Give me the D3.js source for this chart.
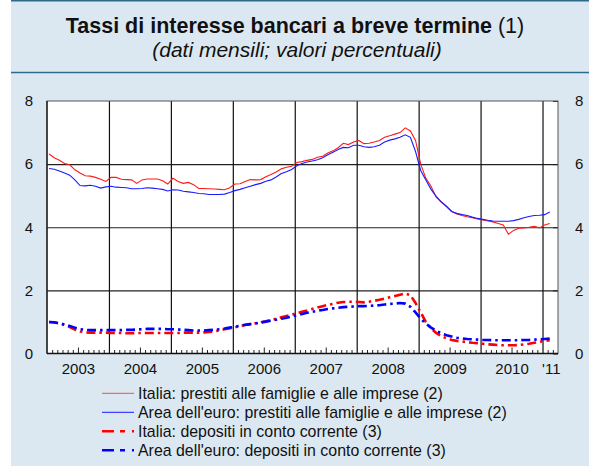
<!DOCTYPE html>
<html>
<head>
<meta charset="utf-8">
<script src="https://cdn.jsdelivr.net/npm/d3@7"></script>
<style>
  body { margin: 0; background: #fff; }
  svg { display: block; font-family: "Liberation Sans", Arial, Helvetica, sans-serif; }
</style>
</head>
<body>
<div id="chart"></div>
<script>
// Monthly data, Jan 2003 .. Feb 2011
const itPrestiti = [
  6.32, 6.20, 6.12, 6.02, 5.98, 5.82, 5.72, 5.63, 5.62, 5.58, 5.52, 5.45,
  5.58, 5.58, 5.52, 5.51, 5.50, 5.39, 5.50, 5.53, 5.53, 5.53, 5.47, 5.37,
  5.55, 5.45, 5.39, 5.42, 5.35, 5.23, 5.23, 5.22, 5.21, 5.20, 5.19, 5.25,
  5.37, 5.38, 5.45, 5.51, 5.50, 5.51, 5.60, 5.67, 5.75, 5.85, 5.90, 5.93,
  6.05, 6.08, 6.12, 6.15, 6.22, 6.25, 6.35, 6.42, 6.52, 6.66, 6.62, 6.70,
  6.75, 6.65, 6.66, 6.70, 6.75, 6.85, 6.90, 6.95, 7.00, 7.15, 7.05, 6.75,
  6.00, 5.55, 5.30, 4.95, 4.80, 4.65, 4.50, 4.42, 4.37, 4.33, 4.30, 4.26,
  4.23, 4.20, 4.17, 4.12, 4.07, 3.78, 3.90, 3.97, 3.98, 4.00, 4.03, 3.98,
  4.07, 4.12
];
const euPrestiti = [
  5.86, 5.84, 5.78, 5.72, 5.65, 5.50, 5.32, 5.31, 5.33, 5.30, 5.24, 5.28,
  5.30, 5.27, 5.26, 5.25, 5.22, 5.22, 5.23, 5.25, 5.24, 5.22, 5.20, 5.15,
  5.19, 5.18, 5.14, 5.12, 5.10, 5.07, 5.06, 5.04, 5.04, 5.04, 5.05, 5.10,
  5.16, 5.20, 5.25, 5.30, 5.35, 5.39, 5.46, 5.50, 5.59, 5.70, 5.76, 5.83,
  5.95, 6.02, 6.07, 6.10, 6.14, 6.20, 6.30, 6.38, 6.46, 6.53, 6.52, 6.60,
  6.60, 6.55, 6.53, 6.55, 6.60, 6.70, 6.76, 6.80, 6.85, 6.93, 6.85, 6.40,
  5.80, 5.50, 5.20, 4.98, 4.80, 4.67, 4.50, 4.44, 4.40, 4.37, 4.32, 4.28,
  4.25, 4.22, 4.20, 4.19, 4.19, 4.19, 4.21, 4.25, 4.30, 4.34, 4.37, 4.38,
  4.40, 4.48
];
const itDepositi = [
  1.00, 0.98, 0.95, 0.90, 0.84, 0.76, 0.70, 0.67, 0.66, 0.66, 0.66, 0.66,
  0.65, 0.65, 0.65, 0.64, 0.64, 0.65, 0.65, 0.65, 0.65, 0.65, 0.65, 0.65,
  0.65, 0.65, 0.66, 0.66, 0.66, 0.66, 0.67, 0.68, 0.70, 0.73, 0.77, 0.80,
  0.83, 0.87, 0.90, 0.93, 0.96, 0.99, 1.02, 1.06, 1.10, 1.15, 1.19, 1.23,
  1.28, 1.32, 1.36, 1.41, 1.46, 1.50, 1.54, 1.57, 1.61, 1.63, 1.64, 1.64,
  1.63, 1.62, 1.64, 1.67, 1.70, 1.74, 1.78, 1.82, 1.86, 1.90, 1.85, 1.60,
  1.30, 1.00, 0.80, 0.65, 0.55, 0.48, 0.43, 0.40, 0.38, 0.36, 0.34, 0.33,
  0.31, 0.29, 0.28, 0.27, 0.26, 0.26, 0.26, 0.27, 0.29, 0.31, 0.34, 0.37,
  0.40, 0.42
];
const euDepositi = [
  1.00, 0.99, 0.96, 0.92, 0.87, 0.82, 0.77, 0.75, 0.74, 0.74, 0.74, 0.74,
  0.74, 0.74, 0.74, 0.75, 0.75, 0.76, 0.77, 0.78, 0.78, 0.78, 0.78, 0.77,
  0.77, 0.76, 0.75, 0.74, 0.73, 0.73, 0.73, 0.74, 0.75, 0.77, 0.79, 0.82,
  0.85, 0.88, 0.91, 0.93, 0.95, 0.98, 1.01, 1.04, 1.07, 1.10, 1.13, 1.17,
  1.21, 1.25, 1.29, 1.32, 1.35, 1.38, 1.41, 1.43, 1.45, 1.47, 1.48, 1.49,
  1.50, 1.50, 1.51, 1.52, 1.53, 1.55, 1.57, 1.58, 1.60, 1.58, 1.48, 1.30,
  1.10, 0.95, 0.82, 0.72, 0.64, 0.58, 0.54, 0.50, 0.48, 0.46, 0.45, 0.44,
  0.43, 0.43, 0.42, 0.42, 0.42, 0.42, 0.42, 0.42, 0.43, 0.43, 0.44, 0.45,
  0.46, 0.47
];
const yearLabels = ["2003", "2004", "2005", "2006", "2007", "2008", "2009", "2010", "'11"];
const yTicks = [0, 2, 4, 6, 8];
const seriesNames = [
  "Italia: prestiti alle famiglie e alle imprese (2)",
  "Area dell'euro: prestiti alle famiglie e alle imprese (2)",
  "Italia: depositi in conto corrente (3)",
  "Area dell'euro: depositi in conto corrente (3)"
];

const W = 589, H = 466;
const plotLeft = 47, plotRight = 558, plotTop = 101, plotBottom = 353.5;
const nMonths = 99;

const svg = d3.select("#chart").append("svg")
  .attr("width", W).attr("height", H);

// panel background
svg.append("rect").attr("x", 11).attr("y", 0).attr("width", W - 11).attr("height", H)
  .attr("fill", "#dce8f1");
svg.append("line").attr("x1", 11).attr("x2", W).attr("y1", 0.75).attr("y2", 0.75)
  .attr("stroke", "#2e6a8c").attr("stroke-width", 1.5);
svg.append("line").attr("x1", 11).attr("x2", W).attr("y1", 72.5).attr("y2", 72.5)
  .attr("stroke", "#2e6a8c").attr("stroke-width", 1.5);

// titles
const title = svg.append("text").attr("x", 295).attr("y", 33)
  .attr("text-anchor", "middle").style("font-size", "21.5px").attr("fill", "#111");
title.append("tspan").style("font-weight", "bold").text("Tassi di interesse bancari a breve termine");
title.append("tspan").text(" (1)");
svg.append("text").attr("x", 297).attr("y", 57)
  .attr("text-anchor", "middle").style("font-size", "21px").style("font-style", "italic")
  .attr("fill", "#111").text("(dati mensili; valori percentuali)");

// scales
const x = d3.scaleLinear().domain([0, nMonths]).range([plotLeft, plotRight]);
const y = d3.scaleLinear().domain([0, 8]).range([plotBottom, plotTop]);

svg.append("rect").attr("x", plotLeft).attr("y", plotTop)
  .attr("width", plotRight - plotLeft).attr("height", plotBottom - plotTop).attr("fill", "#fff");

// horizontal grid
svg.append("g").attr("transform", `translate(${plotLeft},0)`)
  .call(d3.axisLeft(y).tickValues([2, 4, 6]).tickSize(-(plotRight - plotLeft)).tickFormat(""))
  .call(g => g.select(".domain").remove())
  .call(g => g.selectAll("line").attr("stroke", "#222").attr("stroke-width", 1.1));

// vertical grid at year boundaries
svg.append("g").attr("transform", `translate(0,${plotBottom})`)
  .call(d3.axisBottom(x).tickValues(d3.range(12, 97, 12)).tickSize(-(plotBottom - plotTop)).tickFormat(""))
  .call(g => g.select(".domain").remove())
  .call(g => g.selectAll("line").attr("stroke", "#111").attr("stroke-width", 1.2));

// monthly minor ticks
const monthTicks = d3.range(1, nMonths).filter(k => k % 12 !== 0);
svg.append("g").attr("transform", `translate(0,${plotBottom})`)
  .call(d3.axisBottom(x).tickValues(monthTicks).tickSize(0).tickFormat(""))
  .call(g => g.select(".domain").remove())
  .call(g => g.selectAll(".tick line")
    .attr("y2", d => d % 12 === 6 ? -6 : -3.5)
    .attr("stroke", "#222").attr("stroke-width", 1));

// year labels
svg.append("g").attr("transform", `translate(0,${plotBottom})`)
  .call(d3.axisBottom(x)
    .tickValues(yearLabels.map((d, i) => i < 8 ? i * 12 + 6 : 97.6))
    .tickFormat((d, i) => yearLabels[i]).tickSize(0).tickPadding(10))
  .call(g => g.select(".domain").remove())
  .call(g => g.selectAll("text").style("font-size", "15px").attr("fill", "#111")
    .style("font-family", "'Liberation Sans', Arial, sans-serif"));

// y labels left and right
svg.append("g").attr("transform", `translate(${plotLeft},0)`)
  .call(d3.axisLeft(y).tickValues(yTicks).tickSize(0).tickPadding(14))
  .call(g => g.select(".domain").remove())
  .call(g => g.selectAll("text").style("font-size", "15px").attr("fill", "#111")
    .style("font-family", "'Liberation Sans', Arial, sans-serif"));
svg.append("g").attr("transform", `translate(${plotRight},0)`)
  .call(d3.axisRight(y).tickValues(yTicks).tickSize(-5).tickPadding(17))
  .call(g => g.select(".domain").remove())
  .call(g => g.selectAll("line").attr("stroke", "#222"))
  .call(g => g.selectAll("text").style("font-size", "15px").attr("fill", "#111")
    .style("font-family", "'Liberation Sans', Arial, sans-serif"));

// frame
svg.append("rect").attr("x", plotLeft).attr("y", plotTop)
  .attr("width", plotRight - plotLeft).attr("height", plotBottom - plotTop)
  .attr("fill", "none").attr("stroke", "#555").attr("stroke-width", 1);
svg.append("line").attr("x1", plotLeft).attr("x2", plotRight).attr("y1", plotBottom).attr("y2", plotBottom)
  .attr("stroke", "#111").attr("stroke-width", 1.3);
svg.append("line").attr("x1", plotLeft).attr("x2", plotLeft).attr("y1", plotTop).attr("y2", plotBottom)
  .attr("stroke", "#111").attr("stroke-width", 1.3);

// series lines
const line = d3.line().x((d, i) => x(i + 0.4)).y(d => y(d));
const series = [
  { values: itPrestiti, color: "#ff1a1a", width: 1.1, dash: null },
  { values: euPrestiti, color: "#1a1aff", width: 1.1, dash: null },
  { values: itDepositi, color: "#ff0000", width: 2.6, dash: "9,4,2.5,4" },
  { values: euDepositi, color: "#0000ff", width: 2.6, dash: "9,4,2.5,4" }
];
series.forEach(s => {
  svg.append("path").datum(s.values)
    .attr("d", line)
    .attr("fill", "none")
    .attr("stroke", s.color)
    .attr("stroke-width", s.width)
    .attr("stroke-dasharray", s.dash);
});

// legend
const legend = svg.append("g");
series.forEach((s, i) => {
  const ly = 393.3 + i * 19;
  legend.append("line")
    .attr("x1", 102).attr("x2", 134).attr("y1", ly).attr("y2", ly)
    .attr("stroke", i === 0 ? "#f05050" : s.color)
    .attr("stroke-width", s.dash ? 2.6 : 1)
    .attr("stroke-dasharray", s.dash ? "12,6,5,7,2,40" : null);
  legend.append("text")
    .attr("x", 138).attr("y", ly + 5.5)
    .style("font-size", "15.9px").attr("fill", "#111")
    .text(seriesNames[i]);
});
</script>
</body>
</html>
